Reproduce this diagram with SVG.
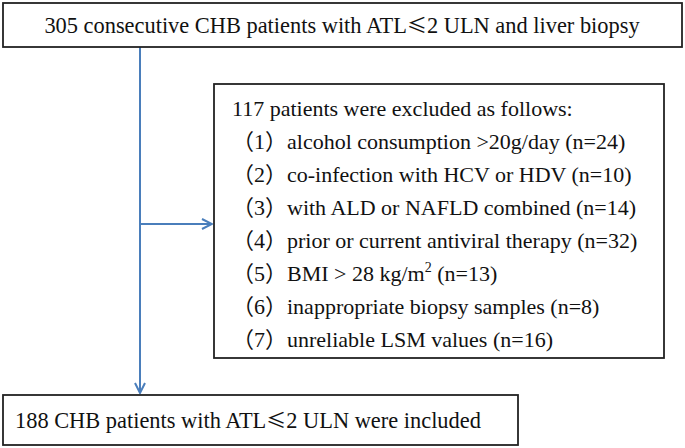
<svg xmlns="http://www.w3.org/2000/svg" width="685" height="448" viewBox="0 0 685 448">
<style>
.box{fill:#fff;stroke:#222;stroke-width:1.8}
.t{font-family:"Liberation Serif","Noto Sans CJK SC",serif;font-size:22.4px;fill:#111}
.e{font-size:22px}
.cj{font-family:"Noto Sans CJK SC","Liberation Serif",sans-serif;font-size:20px}
.c{fill:none;stroke:#4a7ebb;stroke-width:2}
</style>
<defs>
<marker id="ah" viewBox="0 0 12 12" refX="11" refY="6" markerWidth="12" markerHeight="12" markerUnits="userSpaceOnUse" orient="auto">
<path d="M1,1 L11,6 L1,11" fill="none" stroke="#4a7ebb" stroke-width="2"/>
</marker>
</defs>
<rect width="685" height="448" fill="#fff"/>
<g id="connectors">
<line class="c" x1="140" y1="47" x2="140" y2="393" marker-end="url(#ah)"/>
<line class="c" x1="140" y1="224" x2="212" y2="224" marker-end="url(#ah)"/>
</g>
<g id="start">
<rect class="box" x="3" y="3" width="679" height="44"/>
<text class="t" x="342" y="33" text-anchor="middle">305 consecutive CHB patients with ATL<tspan class="cj">≤</tspan>2 ULN and liver biopsy</text>
</g>
<g id="excluded">
<rect class="box" x="214" y="84" width="450" height="274"/>
<text class="t e" x="232" y="116">117 patients were excluded as follows:</text>
<text class="t e" x="232" y="149">（1）alcohol consumption &gt;20g/day (n=24)</text>
<text class="t e" x="232" y="182">（2）co-infection with HCV or HDV (n=10)</text>
<text class="t e" x="232" y="215">（3）with ALD or NAFLD combined (n=14)</text>
<text class="t e" x="232" y="248">（4）prior or current antiviral therapy (n=32)</text>
<text class="t e" x="232" y="281">（5）BMI &gt; 28 kg/m<tspan font-size="14" dy="-9">2</tspan><tspan dy="9"> (n=13)</tspan></text>
<text class="t e" x="232" y="314">（6）inappropriate biopsy samples (n=8)</text>
<text class="t e" x="232" y="347">（7）unreliable LSM values (n=16)</text>
</g>
<g id="included">
<rect class="box" x="3" y="395" width="515" height="50"/>
<text class="t" x="15" y="428">188 CHB patients with ATL<tspan class="cj">≤</tspan>2 ULN were included</text>
</g>
</svg>
